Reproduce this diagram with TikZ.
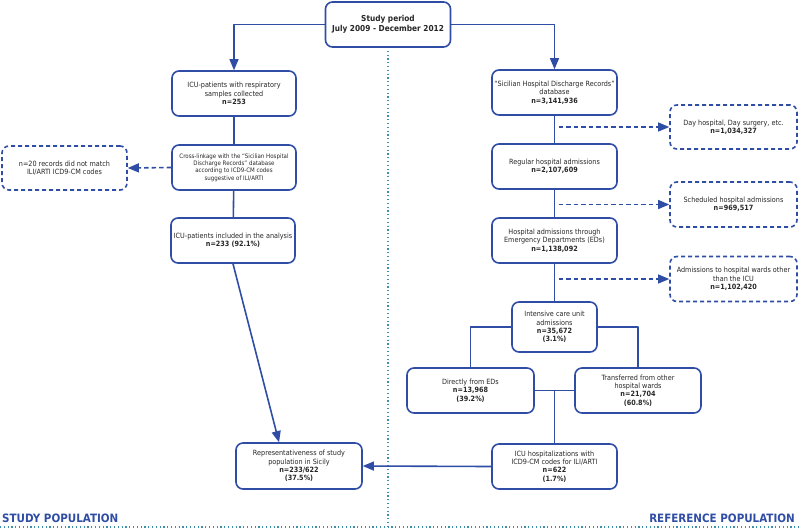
\documentclass[tikz,border=0pt]{standalone}
\usepackage{fontspec}
\setmainfont{DejaVu Sans Condensed}
\usepackage{tikz}
\usetikzlibrary{arrows}

\definecolor{flowblue}{RGB}{47,77,165}
\definecolor{dotteal}{RGB}{62,143,168}

\tikzset{
  box/.style={draw=flowblue, line width=1.6pt, rounded corners=7pt, align=center,
    inner sep=1pt, font=\fontsize{7.2}{8.4}\selectfont, text=black!85},
  dbox/.style={box, dashed, dash pattern=on 4pt off 3pt},
  link/.style={draw=flowblue, line width=1.6pt},
  dlink/.style={link, dash pattern=on 4.5pt off 3pt},
  sep/.style={draw=dotteal, line width=1.3pt, dash pattern=on 1.2pt off 2.6pt},
  poplabel/.style={text=flowblue, font=\fontsize{11.5}{12}\selectfont\bfseries, inner sep=0pt}
}

\begin{document}
\begin{tikzpicture}[line cap=butt,line join=round,>=triangle 45,x=1pt,y=-1pt]
\useasboundingbox (0,0) rectangle (800,531);

% separators
\draw[sep] (388,47) -- (388,527);
\draw[sep] (0,527) -- (800,527);

\node[box, minimum width=125pt, minimum height=45pt, font=\fontsize{8.2}{10}\selectfont\bfseries] (period) at (388,24.5) {Study period\\July 2009 - December 2012};

% study population
\node[box, minimum width=124pt, minimum height=45pt] (icu) at (234,93.5) {ICU-patients with respiratory\\samples collected\\\textbf{n=253}};
\node[box, minimum width=124pt, minimum height=45pt, font=\fontsize{6.1}{7.4}\selectfont] (cross) at (234,167.5) {Cross-linkage with the ``Sicilian Hospital\\Discharge Records'' database\\according to ICD9-CM codes\\suggestive of ILI/ARTI};
\node[dbox, minimum width=125pt, minimum height=44pt] (nomatch) at (64.5,168) {n=20 records did not match\\ILI/ARTI ICD9-CM codes};
\node[box, minimum width=124pt, minimum height=45pt] (incl) at (233,240.5) {ICU-patients included in the analysis\\\textbf{n=233 (92.1\%)}};
\node[box, minimum width=126pt, minimum height=46pt] (repr) at (299,466) {Representativeness of study\\population in Sicily\\\textbf{n=233/622}\\\textbf{(37.5\%)}};

% reference population
\node[box, minimum width=125pt, minimum height=45pt] (shdr) at (554.5,92.5) {``Sicilian Hospital Discharge Records''\\database\\\textbf{n=3,141,936}};
\node[box, minimum width=125pt, minimum height=45pt] (regular) at (554.5,166.5) {Regular hospital admissions\\\textbf{n=2,107,609}};
\node[box, minimum width=125pt, minimum height=45pt] (edadm) at (554.5,240.5) {Hospital admissions through\\Emergency Departments (EDs)\\\textbf{n=1,138,092}};
\node[dbox, minimum width=127pt, minimum height=44pt] (dayhosp) at (733.5,127) {Day hospital, Day surgery, etc.\\\textbf{n=1,034,327}};
\node[dbox, minimum width=127pt, minimum height=45pt] (sched) at (733.5,204.5) {Scheduled hospital admissions\\\textbf{n=969,517}};
\node[dbox, minimum width=127pt, minimum height=45pt] (wards) at (733.5,279) {Admissions to hospital wards other\\than the ICU\\\textbf{n=1,102,420}};
\node[box, minimum width=85pt, minimum height=50pt] (icuadm) at (554.5,327) {Intensive care unit\\admissions\\\textbf{n=35,672}\\\textbf{(3.1\%)}};
\node[box, minimum width=127pt, minimum height=45pt] (direct) at (470.5,390.5) {Directly from EDs\\\textbf{n=13,968}\\\textbf{(39.2\%)}};
\node[box, minimum width=126pt, minimum height=45pt] (transf) at (638,390.5) {Transferred from other\\hospital wards\\\textbf{n=21,704}\\\textbf{(60.8\%)}};
\node[box, minimum width=125pt, minimum height=45pt] (iliarti) at (554.5,466.5) {ICU hospitalizations with\\ICD9-CM codes for ILI/ARTI\\\textbf{n=622}\\\textbf{(1.7\%)}};

\node[poplabel, anchor=south west] (studylab) at (2,522.5) {STUDY POPULATION};
\node[poplabel, anchor=south east] (reflab) at (795,522.5) {REFERENCE POPULATION};

% connectors
\draw[link,->] (period.west) -| (icu.north);
\draw[link,->] (period.east) -| (shdr.north);

\draw[link] (icu) -- (cross);
\draw[link] (cross) -- (incl);
\draw[link,->] (incl.south) -- ([xshift=-20pt]repr.north);
\draw[dlink,->] (cross.west) -- (nomatch.east);

\draw[link] (shdr) -- (regular);
\draw[link] (regular) -- (edadm);
\draw[link] (edadm) -- (icuadm);
\coordinate (c1) at (shdr.south |- dayhosp.west);
\coordinate (c2) at (regular.south |- sched.west);
\coordinate (c3) at (edadm.south |- wards.west);
\draw[dlink,->] ([xshift=4pt]c1) -- (dayhosp.west);
\draw[dlink,->] ([xshift=4pt]c2) -- (sched.west);
\draw[dlink,->] ([xshift=4pt]c3) -- (wards.west);

\draw[link] (icuadm.west) -| (direct.north);
\draw[link] (icuadm.east) -| (transf.north);
\draw[link] (direct.east) -- (transf.west);
\coordinate (mid) at (direct.east -| iliarti.north);
\draw[link] (mid) -- (iliarti.north);
\draw[link,->] (iliarti.west) -- (repr.east);

\end{tikzpicture}
\end{document}
